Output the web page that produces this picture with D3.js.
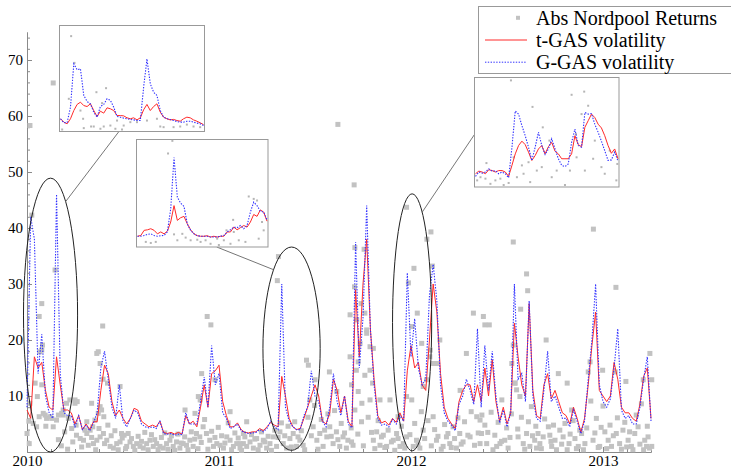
<!DOCTYPE html>
<html>
<head>
<meta charset="utf-8">
<script src="https://cdn.jsdelivr.net/npm/d3@7"></script>
<style>
body { margin: 0; background: #fff; }
svg { display: block; font-family: "Liberation Serif", "Times New Roman", serif; }
</style>
</head>
<body>
<svg width="731" height="468"></svg>
<script>
var series = [ "Abs Nordpool Returns", "t-GAS volatility", "G-GAS volatility" ];
var years = [ 2010, 2011, 2012, 2013 ];
var weeksPerYear = 52;
var yTicks = [ 10, 20, 30, 40, 50, 60, 70 ];

// weekly volatility, week 0 = start of 2010
var tGas = [ 7.5, 6, 17, 15, 16, 11, 8, 7.5, 17, 12, 7.5, 7.5, 7, 5, 6.5, 4, 5, 4, 5.4, 5.4,
	11, 15.5, 14, 9, 6.5, 7.5, 6, 5, 6, 7.8, 7.5, 5.5, 5, 4.5, 4.8, 4.5, 5.5, 3.5, 3.3, 3.5,
	3.2, 3.5, 3.2, 6.5, 5, 5.5, 4.5, 8, 12, 8, 14, 14.5, 15.5, 9, 6.5, 4.5, 4.5, 5.2, 4, 3.5,
	3.4, 3.6, 3.6, 4.2, 3.8, 4.5, 5.3, 4.8, 4.5, 13.5, 10, 6, 4.5, 4, 4.2, 6, 8, 10, 12, 10,
	5.5, 5, 7, 13, 11, 7, 10, 5.5, 4.5, 29, 17, 30, 38, 22, 13, 6.5, 5.2, 5.5, 4.8, 6,
	5.3, 7, 5.5, 14.5, 19, 15, 16, 12, 11, 20, 30, 25, 14, 8, 6, 5, 4.2, 9, 11, 12,
	12, 9, 12, 9, 15, 10, 16.5, 9, 5.5, 8, 5, 7, 23, 17, 12, 10, 26.5, 11, 6.5, 6,
	12, 14, 9.5, 11, 9, 7, 6.5, 5, 8, 6, 3.5, 6, 12, 19, 25, 11, 10, 9, 10, 16,
	13, 8, 7, 7, 6, 5.5, 8.5, 13.5, 15, 6 ];
var gGas = [ 8, 42, 38, 14, 21, 10, 7, 6, 46, 14, 7, 6.5, 6.5, 4.5, 6.5, 4, 4.8, 3.8, 5.2, 7,
	15, 18, 13, 8, 6, 12, 5.5, 4.5, 6, 7.5, 7, 5, 4.5, 4.3, 4.5, 4.2, 5.5, 3.3, 3.2, 3.3,
	3, 3.2, 3.1, 7, 5, 5, 5, 9, 13.4, 8, 19, 12, 14, 7, 6, 4.2, 4.5, 5, 3.8, 3.5,
	3.3, 3.4, 3.5, 4, 3.6, 4.2, 5.5, 4.5, 4, 30, 8, 5.5, 4.5, 4, 4, 6.5, 8, 14.5, 10, 9,
	5.5, 4.5, 8, 14, 9, 6.5, 10, 5, 4.3, 37.5, 15, 24, 44, 22, 12, 6, 4.8, 5, 4.5, 5.8,
	5, 6.5, 5.5, 32, 17, 23.8, 15, 12, 13, 28, 33.5, 27, 12, 7, 5.5, 4.8, 3.8, 8.5, 10, 13,
	11, 8.5, 22, 8, 19, 11, 18, 10, 5.2, 7.5, 4.5, 7, 30, 13, 14, 9, 27, 10, 6, 5.5,
	11, 18, 9, 10, 8, 6, 6, 4.5, 7.5, 5.5, 3.3, 5.5, 13, 20, 30, 12, 9, 8, 9.5, 15,
	22, 7.5, 6, 6.5, 5, 5, 8, 13, 17, 5.5 ];

// absolute returns [week, value]
var absReturns = [ [0.8,58.3],[7.1,65.9],[1.3,42.3],[4.0,26.5],[3.3,24.2],[7.6,32.5],[4.0,18.2],[3.5,17.9],
	[4.2,19.1],[2.2,12.3],[0.8,8.7],[0.5,5.5],[4.9,6.6],[5.1,4.6],[6.7,6],[9.8,6.6],[13,8.7],[16.2,5.4],
	[17.5,8.7],[19.3,17.9],[20.5,22.5],[19.8,15.8],[20.6,13],[21.8,12.3],[25.2,11.7],[42.8,7.5],[46.4,9.9],
	[18.9,17.6],[48.8,24.2],[49.8,22.7],[47.3,14],[50.9,12.9],[46.9,9.3],[45.5,6.9],[55,7.2],[59.5,5.4],
	[68.1,34.9],[67.8,30.6],[84.2,58.5],[88.6,47.7],[88.8,36.5],[91.3,36.2],[88.7,29.5],[89.3,23.6],[90.5,26.5],
	[91.5,24.8],[92,21.8],[92.9,18.8],[93.6,12.3],[87.9,12],[89.7,10.8],[90.7,8.7],[83.9,10.8],[87.5,17],
	[89.7,16.1],[92.9,14.6],[93.8,18.5],[95.6,9.3],[102.8,43.7],[109.4,39.3],[108.3,38],[104.8,32.8],
	[109.8,33.2],[103.3,30.2],[105.7,24.8],[104.2,22.4],[109.2,18.2],[110,15.8],[106.9,19.4],[111,15.8],
	[102.8,9.9],[107.3,11.7],[123.6,24.2],[125.2,22.7],[117.3,11],[128.6,9.3],[131.7,37.5],[153.4,39.8],
	[135.3,31.8],[135.6,28.8],[159.5,29.4],[133.7,25.5],[140.6,20],[168.7,17.6],[169.2,12.9],[143.9,14],
	[131.3,15.8],[152.5,16.1],[159.3,14.3],[162.2,12.6],[155.9,14.6],[166.9,12.9],[132.2,12.3],[146.3,12.3],
	[0,3.3],[0.6,1.5],[1.7,5.1],[2.6,4.5],[2.8,9.9],[3.3,6.3],[4.0,12],[4.4,6.9],[5.3,6],[6.2,6.3],
	[7.1,4.5],[8.0,5.7],[8.5,6.6],[9.4,6.9],[9.8,7.5],[10.7,8.7],[11.6,9.3],[13.0,9.3],[13.6,9],[11.2,6],
	[12.1,4.2],[13.4,3],[14.4,2.4],[15.3,2.1],[16.2,3.3],[17.1,3.9],[17.8,4.5],[18.4,5.7],[19.3,6.9],[19.8,8.1],
	[20.2,7.5],[20.8,6.3],[18.0,1.5],[18.9,2.1],[19.8,2.7],[20.7,3.3],[21.6,2.1],[22.5,1],[23.4,0.7],[24.3,1.5],
	[25.2,1.8],[25.6,3.3],[26.3,3],[27.0,1],[27.9,1.8],[28.8,1],[29.7,1.5],[30.6,1],[31.5,0.7],[32.4,1.5],
	[33.3,2.1],[34.2,1],[35.1,1.5],[36.0,1],[36.9,0.7],[37.8,1.5],[38.7,2.1],[39.6,1],[40.5,1.8],[41.4,0.7],
	[42.3,1.5],[43.2,1.2],[44.1,2.1],[45.0,1],[45.9,3.3],[46.8,2.7],[47.7,4.5],[48.6,3.3],[49.5,2.1],[50.5,1],
	[51.4,1.5],[52.3,1.2],[53.2,0.7],[54.1,2.7],[55.0,2.1],[55.9,1],[56.8,1.5],[57.7,0.7],[58.6,1.5],[59.5,1],
	[57.7,1.5],[58.6,3.3],[60.4,1.8],[61.3,0.7],[62.2,2.4],[63.1,1.2],[64,2.1],[64.9,0.7],[65.8,1.5],[66.7,2.7],
	[67.6,1],[68.5,3.6],[69.4,1.5],[70.3,0.7],[71.2,2.4],[72.1,3.3],[73,1],[73.9,2.1],[74.8,1.2],[75.7,16.4],
	[76.2,15.5],[76.6,9.3],[77.5,4.5],[78,12.9],[78.5,2.1],[79.3,3.3],[80.2,1],[81.2,2.7],[81.9,14.3],[82,4.5],
	[82.9,1.5],[83.8,3.6],[84.7,1],[85.6,2.7],[86.5,0.7],[87.5,24.5],[87.9,1.8],[88.8,7.5],[89.2,14.6],[90.2,19.4],
	[91.5,13.7],[92,21.2],[92.9,9.3],[93.8,2.1],[94.7,3.6],[95.6,1.2],[96.5,3],[97.4,1],[98.3,9.3],[99.2,2.1],
	[100.1,3.3],[100.5,6.3],[101,1],[101.9,1.5],[102.8,2.7],[104.2,9.3],[104.6,1],[105.5,2.1],[106.4,0.7],[107.3,3.9],
	[108.2,12.9],[109.1,17],[110,6.3],[110.9,2.1],[111.8,20],[112.7,1],[113.6,2.7],[114.5,1.5],[115.4,4.5],[116.3,0.7],
	[117.2,3.3],[118.1,1.8],[119,17.6],[120,2.7],[120.9,24.8],[121.8,6.3],[122.7,1.5],[124,22.7],
	[122.7,5.7],[124,4.8],[123.1,3.3],[124.5,1.5],[126.7,3],[127.2,1],[128.1,1.5],[129.4,2.1],[130.3,0.7],[131.7,19.1],
	[132.1,12.3],[132.6,11.1],[133.5,9.9],[133,2.7],[134.4,1.5],[135.3,3.3],[136.2,1],[136.6,8.1],[137.5,2.1],[138,0.7],
	[138.9,1.5],[139.8,2.7],[141.2,4.5],[141.6,3],[142.1,1],[143,2.1],[144.3,3.9],[145.2,2.7],[146.8,1.5],[147.5,7.5],
	[148.4,2.4],[149.3,1],[150.2,3.3],[151.1,1.5],[152,14.3],[153.3,2.1],[154.2,6],[155.1,1],[156.5,3.6],[157.4,2.1],
	[158.3,1],[159.6,3.3],[160.5,1.5],[161.4,3.9],[162.8,2.1],[163.7,1],[164.6,3.3],[165.5,4.5],[167.3,2.1],[167.8,1],
	[168.2,2.7],[169.2,1],
	[8.5,2.2],[9.3,1.1],[10.2,3.6],[11,0.5],[12.4,1.8],[13.3,4.8],[14.8,0.9],[15.7,3.9],[16.6,1.2],[17.5,2.6],
	[18.6,0.4],[19.5,4.2],[21,1.5],[21.9,4.8],[22.8,2.9],[23.8,3.8],[24.7,0.4],[25.8,2.5],[26.7,0.6],[27.4,3.3],
	[28.3,2.4],[29.2,0.3],[30.1,2.8],[31,1.9],[31.9,3.5],[32.8,0.4],[33.7,3.1],[34.6,2.2],[35.5,0.4],[36.4,2.6],
	[37.3,3.4],[38.2,0.5],[39.1,2.9],[40,0.3],[40.9,3.2],[41.8,1.6],[42.7,2.7],[43.6,0.4],[44.5,3.6],[45.4,2.3],
	[46.3,0.6],[47.2,1.7],[48.1,5.8],[49,0.5],[50,3.7],[50.9,2.6],[51.8,4.4],[52.7,2.9],[53.6,1.6],[54.5,5.2],
	[55.4,0.4],[56.3,3.4],[57.2,2.5],[58.1,0.3],[59,2.7],
	[60.8,3.1],[61.7,2.3],[62.6,0.4],[63.5,3.6],[64.4,1.8],[65.3,2.8],[66.2,0.3],[67.1,3.9],[68,2.6],[68.9,5.2],
	[69.8,2.9],[70.7,4.6],[71.6,0.9],[72.5,5.4],[73.4,2.7],[74.3,3.8],[75.2,0.4],[76.1,6.2],[77,2.9],[77.9,8.3],
	[78.8,0.5],[79.7,5.8],[80.6,3.9],[81.5,6.8],[82.4,2.8],[83.3,7.4],[84.2,2.2],[85.1,5.1],[86,3.4],[86.9,2.1],
	[87.8,4.3],[88.3,1.2],[89.6,3.2],[90.6,5.4],[91.1,1.1],[92.4,6.2],[93.3,3.5],[94.2,0.6],[95.1,5.6],[96,2.7],
	[96.9,0.8],[97.8,3.9],[98.7,1.8],[99.6,0.3],[100.5,2.4],[101.4,4.6],[102.3,0.7],[103.7,3.1],[105,5.1],[105.9,1.3],
	[106.8,7.2],[107.7,2.4],[108.6,5.6],[109.5,1.1],[110.4,4],[111.3,2.8],[112.2,0.5],[113.1,4.9],[114,3.3],[114.9,0.8],
	[115.8,2.4],[116.7,6.1],[117.6,1.4],[118.5,5.4],[119.4,3],[120.3,7.2],[121.2,1.2],[122.2,3.4],[123.2,6.6],
	[124.8,3.5],[125.7,7.1],[126.2,0.4],[127.6,5.3],[128.5,1.9],[129.9,4.3],[130.8,2.6],[131.2,6.8],[132.9,4.1],[133.9,6.2],
	[134.8,0.5],[135.8,5.4],[136.9,2.9],[137.8,4.6],[138.4,3.3],[139.3,0.6],[140.2,5.9],[141.9,1.9],[142.6,4.8],[143.4,0.4],
	[144.8,1.4],[145.7,5.1],[146.3,0.4],[147.1,3.2],[147.9,5.6],[148.8,0.6],[149.7,3.9],[150.7,0.4],[151.6,4.3],[152.7,9.1],
	[153.8,3.4],[154.7,0.8],[155.5,4.4],[156,8.2],[157,0.6],[157.9,4.8],[158.8,2.9],[159.9,6.1],[161,0.5],[161.9,5.3],
	[162.4,0.9],[163.2,3.6],[164.1,0.4],[165,6.6],[166,1.4],[166.4,8.6],[167,0.4],[168,4.6],[168.6,0.7] ];

// zoomed windows: [first week, last week], value range
var zoomWeeks = [ [ -0.95, 13.7 ], [ 63.9, 79.4 ], [ 99.0, 109.6 ] ];
var zoomTop = [ 48.9, 36.6, 46.1 ];
var zoomBottom = [ 0, 0.3, 0.2 ];

// inset curves (evenly spaced samples across each window)
var inset1Red = [ 7.9, 5.8, 4.8, 7.9, 13, 16.8, 18.2, 16.1, 15.5, 17.2, 13, 9.3, 12.6, 11.4, 14.7, 14.1, 13, 9.9, 9.9, 9.7,
	8.5, 7.9, 8.5, 7.2, 8.5, 13.5, 16.8, 13, 15.5, 17.2, 12, 8.9, 7.9, 7.2, 7.5, 6.8, 6.4, 7.9, 8.9, 8.5, 7.2, 6.4, 5.4, 4.3 ];
var inset1Blue = [ 7.9, 5.4, 5.6, 15.1, 42, 38.3, 38.9, 22.4, 18.6, 17.2, 12, 8.9, 15.5, 16.8, 20.3, 19.3, 15.1, 9.3, 8.9, 8.3,
	7.9, 7.5, 7.2, 6.8, 6.8, 27.5, 45.1, 29.6, 24.4, 22.4, 13, 8.9, 7.9, 7.5, 6.8, 6.2, 5.8, 5.8, 6.4, 6.4, 5.8, 5.2, 4.8, 3.7 ];
var inset1Pts = [ [3.2,59.2],[4.2,42.6],[2.5,20.3],[6,13],[6.8,7.9],[9.2,3.1],[10,3.1],[10.8,24.4],[13.7,26.9],[12.5,17.6],
	[13,3.1],[15,3.7],[17,6.8],[19,3.7],[21,5.8],[23,5.8],[26,6.8],[29,7.9],[30,3.1],[31,2.7],[34,2.7],[36,3.1],[38,4.3],
	[40,3.1],[42,2.7],[16.5,1.7],[12,1.7],[7,2.1],[18.5,1],[0.5,0.6] ];
var inset2Red = [ 4, 4.3, 6.2, 6.4, 6.8, 6.2, 4.9, 5.6, 4.9, 5.9, 9.3, 15.4, 9.9, 10.9, 11.4, 8.6, 6.4, 4.9, 4.2, 4,
	4, 4.2, 3.7, 4, 3.7, 4, 4, 5.6, 5.6, 7.4, 6.4, 7.2, 8, 7.4, 9.3, 12.1, 11.4, 13.8, 13, 9.6 ];
var inset2Blue = [ 4, 4, 4.3, 4.7, 4.9, 4.3, 4, 4.2, 4.3, 5.6, 14.2, 33.3, 18.5, 16.3, 15.1, 8.6, 6.2, 4.9, 4.2, 4,
	4, 4, 3.7, 3.7, 3.7, 4, 4.3, 5.6, 6.4, 7.4, 7.2, 8, 6.8, 8, 13, 16.7, 15.4, 13.3, 13, 10.1 ];
var inset2Pts = [ [10.5,39.5],[9.2,34.8],[33.5,18.8],[35,17.9],[36,17.3],[28.8,10.1],[26.8,6.2],[29,5.6],[24.5,0.3],[5.5,1.9],
	[4,1.5],[2.5,1.9],[11,4.7],[12,2.5],[13.5,4.9],[14.5,3.5],[16,2.5],[18,2.7],[19,1.9],[20.5,2.5],[22,1.2],[24,3.1],
	[26,2.5],[28,1.2],[30.5,2.5],[32.5,1.9],[36.5,3.1],[38,6.2],[37.5,9.3] ];
var inset3Red = [ 4.6, 5.5, 5.2, 4.6, 6, 5.7, 5.2, 5.7, 5.7, 5.2, 3.7, 7.5, 11.5, 14.4, 15.9, 14.7, 12.1, 9.2, 10.9, 13.2,
	14.4, 11.5, 14, 15.5, 12.4, 11.5, 9.8, 9.8, 9.8, 11.5, 17.8, 14.7, 14, 20.7, 23, 25.3, 24.1, 21.8, 20.5, 17.8, 14.4, 11.7, 13.2, 9.8 ];
var inset3Blue = [ 3.7, 5.2, 4.8, 5.2, 6.3, 5.5, 5.7, 4.6, 5.2, 4.6, 3.2, 13.8, 26.4, 25.3, 21.3, 17.8, 13.8, 9.2, 13.8, 19,
	14.4, 11.3, 13.2, 16.7, 13.2, 9.8, 7.5, 7.1, 8, 15.5, 20.1, 14.4, 13.8, 25.9, 25.3, 25.5, 21.8, 19, 15.9, 12.6, 9.2, 9.4, 12.1, 9 ];
var inset3Pts = [ [10.7,37],[29,32],[32.8,33.1],[17.2,27.8],[20.3,20.7],[32,25.3],[34,28.2],[22.3,16.1],[30.3,18.4],[36,16.1],
	[11.5,10.3],[14,7.5],[16,8.6],[3.3,8.3],[0.5,2.3],[1.5,3.4],[3,2.9],[4.5,1.1],[6,2.3],[7.5,2.9],[8.5,0.4],[10,1.4],
	[12.5,3.4],[14.5,4.6],[16.5,1.7],[18.5,5.7],[20,6.9],[23,3.4],[24.5,5.7],[27,0.3],[28.5,5.7],[30.5,10.3],[33,5.7],
	[35.5,9.8],[38,6.9],[39,4.6],[40.5,12.6],[42.5,2.3],[42.8,8] ];

var colors = { pts : "#c2c2c2", red : "#ff2a2a", blue : "#3030ff" };

var svg = d3.select("svg");
var xScale = d3.scaleLinear().domain([ 0, 169 ]).range([ 27, 651 ]);
var yScale = d3.scaleLinear().domain([ 0, 75 ]).range([ 452, 32 ]);

function yearWeek(y) {
	return (y - 2010) * weeksPerYear;
}

// axes
var axisColor = "#8a8a8a";
var minorX = d3.range(0, 3.3, 0.125).map(function(d) {
	return d * weeksPerYear;
}).filter(function(d) {
	return d <= 169;
});
svg.append("g").attr("transform", "translate(0,452)").call(
		d3.axisBottom(xScale).tickValues(minorX).tickFormat("").tickSize(-3).tickSizeOuter(0));
svg.append("g").attr("class", "xaxis").attr("transform", "translate(0,452)").call(
		d3.axisBottom(xScale).tickValues(years.map(yearWeek)).tickFormat(function(d, i) {
			return years[i];
		}).tickSize(-5).tickSizeOuter(0).tickPadding(3));
svg.append("g").attr("transform", "translate(27,0)").call(
		d3.axisLeft(yScale).tickValues(d3.range(2, 75, 2)).tickFormat("").tickSize(-3).tickSizeOuter(0));
svg.append("g").attr("class", "yaxis").attr("transform", "translate(27,0)").call(
		d3.axisLeft(yScale).tickValues(yTicks).tickSize(-5).tickSizeOuter(0).tickPadding(4));
svg.selectAll(".domain, .tick line").attr("stroke", axisColor);
svg.selectAll(".tick text").attr("fill", "#000").attr("font-family", "Liberation Serif")
		.style("font-size", "15px").style("font-family", "'Liberation Serif', serif");

// data
svg.append("g").selectAll("rect").data(absReturns).enter().append("rect")
		.attr("x", function(d) { return xScale(d[0]) - 2.5; })
		.attr("y", function(d) { return yScale(d[1]) - 2.5; })
		.attr("width", 5).attr("height", 5).attr("fill", colors.pts);

var line = d3.line().x(function(d, i) {
	return xScale(i);
}).y(function(d) {
	return yScale(d);
});
svg.append("path").datum(tGas).attr("d", line).attr("fill", "none")
		.attr("stroke", colors.red).attr("stroke-width", 1);
svg.append("path").datum(gGas).attr("d", line).attr("fill", "none")
		.attr("stroke", colors.blue).attr("stroke-width", 1.1).attr("stroke-dasharray", "1.4,1.4");

// ellipses around the zoomed windows
var ells = zoomWeeks.map(function(w, i) {
	var x0 = xScale(w[0]), x1 = xScale(w[1]);
	var y0 = yScale(zoomTop[i]), y1 = yScale(zoomBottom[i]);
	return { cx : (x0 + x1) / 2, cy : (y0 + y1) / 2, rx : (x1 - x0) / 2, ry : (y1 - y0) / 2 };
});
svg.append("g").selectAll("ellipse").data(ells).enter().append("ellipse")
		.attr("cx", function(d) { return d.cx; }).attr("cy", function(d) { return d.cy; })
		.attr("rx", function(d) { return d.rx; }).attr("ry", function(d) { return d.ry; })
		.attr("fill", "none").attr("stroke", "#222").attr("stroke-width", 1);

// insets
var insets = [
	{ box : [ 59.5, 25.5, 145, 106 ], red : inset1Red, blue : inset1Blue, pts : inset1Pts, yMax : 65.8,
		side : "bottom", at : 0.41, angle : 56 },
	{ box : [ 136.5, 139.5, 131.5, 107.5 ], red : inset2Red, blue : inset2Blue, pts : inset2Pts, yMax : 40,
		side : "bottom", at : 0.61, angle : 129 },
	{ box : [ 474.5, 77.5, 144.5, 109.5 ], red : inset3Red, blue : inset3Blue, pts : inset3Pts, yMax : 38,
		side : "left", at : 0.52, angle : 59 } ];

insets.forEach(function(ins, i) {
	var b = ins.box;
	var e = ells[i];
	var a = ins.angle * Math.PI / 180;
	var ax = ins.side == "bottom" ? b[0] + ins.at * b[2] : b[0];
	var ay = ins.side == "bottom" ? b[1] + b[3] : b[1] + ins.at * b[3];
	svg.append("line").attr("x1", ax).attr("y1", ay)
			.attr("x2", e.cx + e.rx * Math.cos(a)).attr("y2", e.cy - e.ry * Math.sin(a))
			.attr("stroke", "#666").attr("stroke-width", 0.9);

	var g = svg.append("g");
	g.append("rect").attr("x", b[0]).attr("y", b[1]).attr("width", b[2]).attr("height", b[3])
			.attr("fill", "#fff").attr("stroke", "#999");
	var ix = d3.scaleLinear().domain([ 0, ins.red.length - 1 ]).range([ b[0] + 1, b[0] + b[2] - 1 ]);
	var iy = d3.scaleLinear().domain([ 0, ins.yMax ]).range([ b[1] + b[3], b[1] ]);
	g.selectAll("rect.p").data(ins.pts).enter().append("rect").attr("class", "p")
			.attr("x", function(d) { return ix(d[0]) - 1; })
			.attr("y", function(d) { return Math.min(iy(d[1]), b[1] + b[3] - 2) - 1; })
			.attr("width", 2).attr("height", 2).attr("fill", "#b5b5b5");
	var il = d3.line().x(function(d, k) { return ix(k); }).y(function(d) { return iy(d); });
	g.append("path").datum(ins.red).attr("d", il).attr("fill", "none")
			.attr("stroke", colors.red).attr("stroke-width", 1);
	g.append("path").datum(ins.blue).attr("d", il).attr("fill", "none")
			.attr("stroke", colors.blue).attr("stroke-width", 1.1).attr("stroke-dasharray", "1.4,1.4");
});

// legend
var legend = svg.append("g");
legend.append("rect").attr("x", 478.5).attr("y", 6.5).attr("width", 270).attr("height", 67)
		.attr("fill", "#fff").attr("stroke", "#999");
var rows = legend.selectAll("g").data(series).enter().append("g")
		.attr("transform", function(d, i) { return "translate(0," + (17.8 + i * 22.2) + ")"; });
rows.filter(function(d, i) { return i == 0; }).append("rect")
		.attr("x", 516).attr("y", -2).attr("width", 4).attr("height", 4).attr("fill", colors.pts);
rows.filter(function(d, i) { return i > 0; }).append("line")
		.attr("x1", 485).attr("x2", 527).attr("y1", 0).attr("y2", 0)
		.attr("stroke", function(d, i) { return i == 0 ? colors.red : colors.blue; })
		.attr("stroke-dasharray", function(d, i) { return i == 0 ? null : "1.4,1.4"; });
rows.append("text").attr("x", 536).attr("y", 7).style("font-size", "20px").text(function(d) {
	return d;
});
</script>
</body>
</html>
